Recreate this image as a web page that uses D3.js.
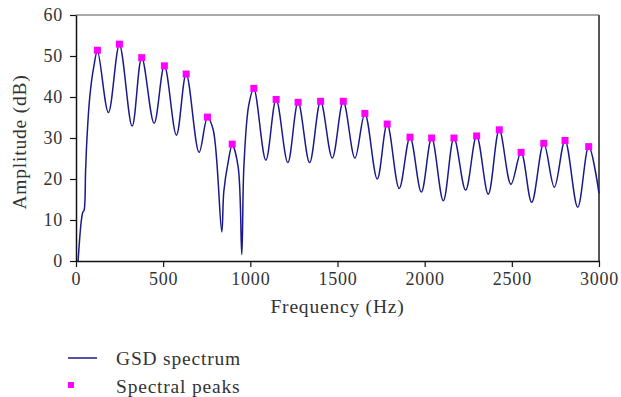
<!DOCTYPE html>
<html>
<head>
<meta charset="utf-8">
<script src="https://cdn.jsdelivr.net/npm/d3@7"></script>
<style>
  body { margin: 0; background: #fff; }
  text { font-family: "Liberation Serif", "DejaVu Serif", serif; fill: #333; letter-spacing: 0.8px; }
</style>
</head>
<body>
<div id="chart"></div>
<script>
// spectrum trace (Hz, dB)
const specFreq = [12, 31, 40, 46, 55, 63, 79, 102, 123, 186, 249, 322, 377, 448, 507, 576, 632, 706,
  754, 787, 836, 848, 873, 896, 930, 951, 963, 991, 1020, 1089, 1148, 1215, 1274, 1340, 1403, 1470,
  1533, 1600, 1657, 1728, 1785, 1854, 1916, 1981, 2040, 2107, 2168, 2235, 2298, 2365, 2428, 2495,
  2553, 2614, 2683, 2744, 2805, 2878, 2941, 3000]
const specAmp = [0, 10, 12, 12.3, 22, 30, 40, 47.4, 51.2, 36.2, 52.7, 32.9, 49.6, 33.6, 47.6, 30.7, 45.6, 26.5,
  35.0, 32, 7.1, 17, 24.2, 28.3, 23, 1.6, 23, 38, 42.0, 24.6, 39.4, 24.0, 38.7, 24.0, 38.9, 25.1,
  38.9, 25.1, 36.0, 20.0, 33.4, 17.7, 30.2, 16.8, 30.0, 14.7, 30.0, 17.3, 30.5, 16.3, 32.0, 18.7,
  26.5, 14.3, 28.7, 18.0, 29.4, 13.1, 27.9, 16.5]

// spectral peaks
const peakFreq = [123, 249, 377, 507, 632, 754, 896, 1020, 1148, 1274, 1403, 1533, 1657, 1785, 1916,
  2040, 2168, 2298, 2428, 2553, 2683, 2805, 2941]
const peakAmp = [51.4, 52.9, 49.6, 47.6, 45.6, 35.1, 28.5, 42.1, 39.4, 38.7, 38.95, 38.95, 36.0, 33.4, 30.2,
  30.0, 30.0, 30.5, 32.0, 26.5, 28.7, 29.4, 27.9]

const xTicks = [0, 500, 1000, 1500, 2000, 2500, 3000]
const yTicks = [0, 10, 20, 30, 40, 50, 60]

const width = 621,
    height = 397;
const margin = {top: 15, right: 22, bottom: 136, left: 76};
const plotW = width - margin.left - margin.right,
    plotH = height - margin.top - margin.bottom;

const svg = d3.select("#chart")
    .append("svg")
    .attr("width", width)
    .attr("height", height);

const g = svg.append("g")
    .attr("transform", `translate(${margin.left},${margin.top})`);

const x = d3.scaleLinear().domain([0, 3000]).range([0, plotW]);
const y = d3.scaleLinear().domain([0, 60]).range([plotH, 0]);

// frame (top and right)
g.append("line").attr("x1", 0).attr("x2", plotW).attr("y1", 0).attr("y2", 0)
    .attr("stroke", "#555").attr("stroke-width", 1.2);
g.append("line").attr("x1", plotW).attr("x2", plotW).attr("y1", 0).attr("y2", plotH)
    .attr("stroke", "#555").attr("stroke-width", 2);

const spectrum = specFreq.map((f, i) => ({f: f, a: specAmp[i]}))
const peaks = peakFreq.map((f, i) => ({f: f, a: peakAmp[i]}))

const line = d3.line()
    .x(d => x(d.f))
    .y(d => y(d.a))
    .curve(d3.curveCatmullRom.alpha(0.5));

g.append("path")
    .datum(spectrum)
    .attr("d", line)
    .attr("fill", "none")
    .attr("stroke", "#1a1a8a")
    .attr("stroke-width", 1.5);

g.selectAll("rect.peak")
    .data(peaks)
    .join("rect")
    .attr("class", "peak")
    .attr("x", d => x(d.f) - 3.5)
    .attr("y", d => y(d.a) - 3.5)
    .attr("width", 7)
    .attr("height", 7)
    .attr("fill", "#ff00ff");

// axes
const xAxis = g.append("g")
    .attr("transform", `translate(0,${plotH})`)
    .call(d3.axisBottom(x).tickValues(xTicks).tickFormat(d3.format("d"))
        .tickSize(6).tickSizeOuter(0).tickPadding(5));
const yAxis = g.append("g")
    .call(d3.axisLeft(y).tickValues(yTicks).tickFormat(d3.format("d"))
        .tickSize(6).tickSizeOuter(0).tickPadding(7));

[xAxis, yAxis].forEach(ax => {
  ax.select(".domain").attr("stroke", "#111").attr("stroke-width", 1.5);
  ax.selectAll(".tick line").attr("stroke", "#111").attr("stroke-width", 1.2);
  ax.selectAll("text").style("font-size", "18px").attr("fill", "#333");
});

svg.append("text")
    .attr("x", margin.left + plotW / 2)
    .attr("y", 313)
    .attr("text-anchor", "middle")
    .style("font-size", "19.5px")
    .text("Frequency (Hz)");

svg.append("text")
    .attr("transform", `translate(26,${margin.top + plotH / 2 + 4}) rotate(-90)`)
    .attr("text-anchor", "middle")
    .style("font-size", "19.5px")
    .text("Amplitude (dB)");

// legend
const legend = svg.append("g");
legend.append("line")
    .attr("x1", 68).attr("x2", 97).attr("y1", 358).attr("y2", 358)
    .attr("stroke", "#1a1a8a").attr("stroke-width", 1.5);
legend.append("text").attr("x", 116).attr("y", 365).style("font-size", "19.5px").text("GSD spectrum");
legend.append("rect")
    .attr("x", 68).attr("y", 382).attr("width", 6).attr("height", 6)
    .attr("fill", "#ff00ff");
legend.append("text").attr("x", 116).attr("y", 393).style("font-size", "19.5px").text("Spectral peaks");
</script>
</body>
</html>
